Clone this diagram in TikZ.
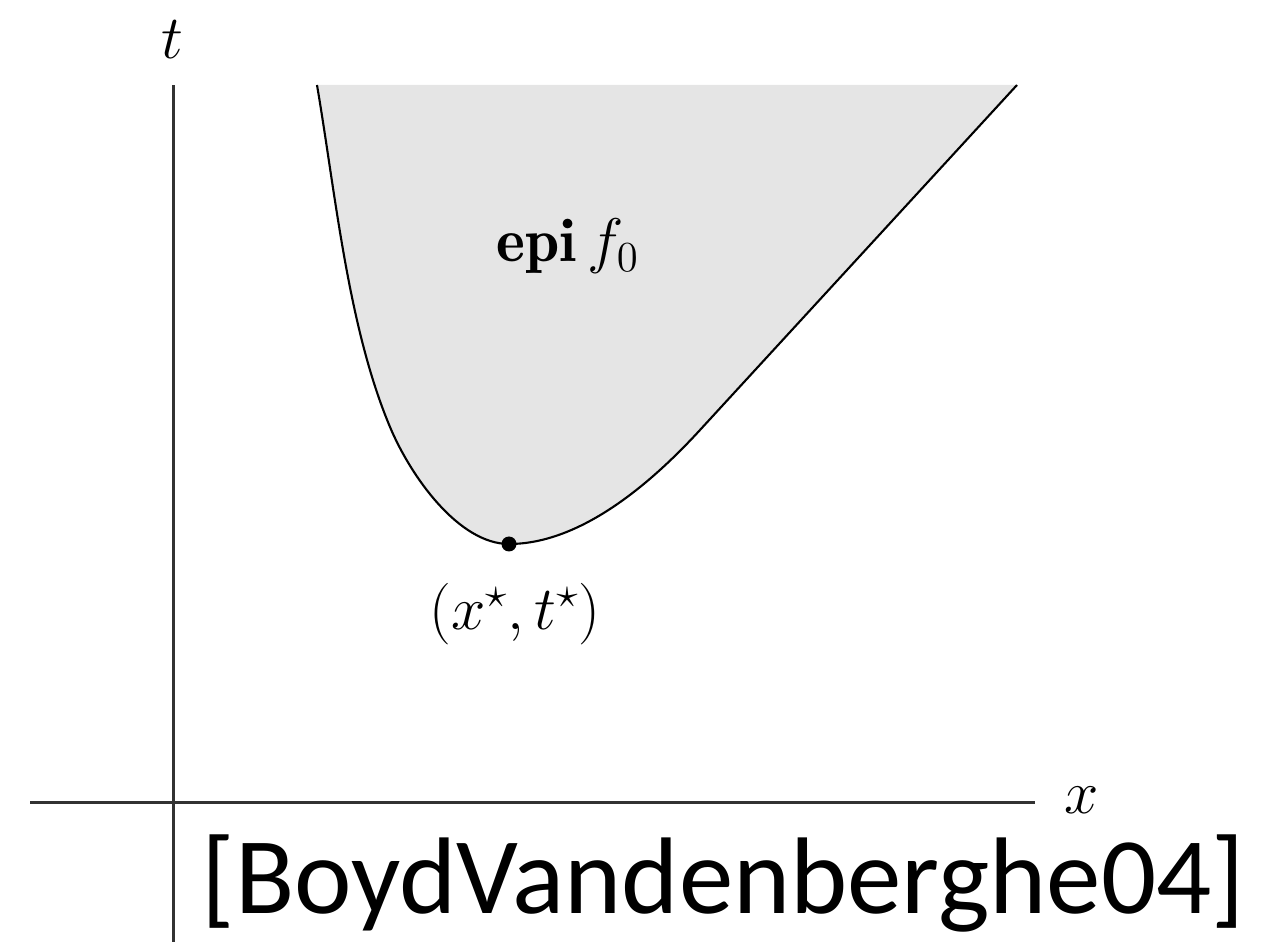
\documentclass[tikz,border=0pt]{standalone}
\usepackage{amsmath}
\usepackage{fontspec}
\newfontfamily\capfont{Carlito}
\usetikzlibrary{positioning, arrows.meta}
\definecolor{epigray}{RGB}{229,229,229}
\definecolor{axisgray}{RGB}{50,50,50}

\begin{document}
\begin{tikzpicture}[
			x=0.02cm, y=-0.02cm,
			axis/.style={draw=axisgray, line width=1.3pt},
			curve/.style={draw=black, line width=1.2pt},
			mathlabel/.style={font=\fontsize{20.74}{25}\selectfont, inner sep=0pt, scale=1.69, transform shape},
			caption/.style={font=\capfont\fontsize{62}{70}\selectfont, inner sep=0pt}
			]
			\useasboundingbox (0,0) rectangle (1279,942);
			
			% Achsen
			\coordinate (T0) at (173.5,942);
			\coordinate (T1) at (173.5,85);
			\coordinate (X0) at (30,802.5);
			\coordinate (X1) at (1035,802.5);
			\coordinate (xopt) at (509,544);
			
			% Epigraph (Flaeche und Rand)
			\fill[epigray] (317,85) .. controls (335.7,195) and (348,327) .. (390,427)
				.. controls (411,477) and (459,544) .. (xopt)
				.. controls (580,544) and (650,484.5) .. (700,430) -- (1017,85) -- cycle;
			\draw[curve] (317,85) .. controls (335.7,195) and (348,327) .. (390,427)
				.. controls (411,477) and (459,544) .. (xopt)
				.. controls (580,544) and (650,484.5) .. (700,430) -- (1017,85);
			
			\draw[axis] (T0) -- (T1);
			\draw[axis] (X0) -- (X1);
			
			% Optimum
			\fill (xopt) circle[radius=7.5];
			
			\node[mathlabel] (tlab) at (172,40) {$t$};
			\node[mathlabel] (xlab) at (1082,800) {$x$};
			\node[mathlabel, anchor=base] (epi) at (568,262) {$\mathbf{epi}\, f_0$};
			\node[mathlabel] (optlab) at (515,614) {$(x^\star, t^\star)$};
			\node[caption, anchor=base] (cite) at (723.5,913) {[BoydVandenberghe04]};
		\end{tikzpicture}
\end{document}
